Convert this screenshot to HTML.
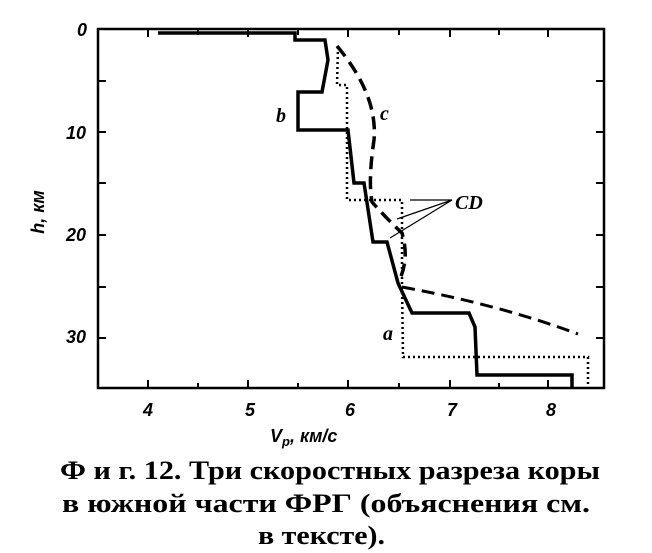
<!DOCTYPE html>
<html><head><meta charset="utf-8"><style>
body{margin:0;background:#fff;}
svg{display:block}
</style></head><body>
<svg width="652" height="553" viewBox="0 0 652 553" xmlns="http://www.w3.org/2000/svg">
<rect width="652" height="553" fill="#fff"/>
<rect x="98" y="29" width="506" height="359" fill="none" stroke="#000" stroke-width="2.5"/>
<g stroke="#000" stroke-width="2">
<line x1="148" y1="388" x2="148" y2="380"/><line x1="248" y1="388" x2="248" y2="380"/><line x1="348" y1="388" x2="348" y2="380"/><line x1="450" y1="388" x2="450" y2="380"/><line x1="548" y1="388" x2="548" y2="380"/>
<line x1="198" y1="388" x2="198" y2="383"/><line x1="298" y1="388" x2="298" y2="383"/><line x1="399" y1="388" x2="399" y2="383"/><line x1="499" y1="388" x2="499" y2="383"/>
<line x1="148" y1="29" x2="148" y2="37"/><line x1="248" y1="29" x2="248" y2="37"/><line x1="348" y1="29" x2="348" y2="37"/><line x1="450" y1="29" x2="450" y2="37"/><line x1="548" y1="29" x2="548" y2="37"/>
<line x1="198" y1="29" x2="198" y2="35"/><line x1="298" y1="29" x2="298" y2="35"/><line x1="399" y1="29" x2="399" y2="35"/><line x1="499" y1="29" x2="499" y2="35"/>
<line x1="98" y1="81" x2="106" y2="81"/><line x1="98" y1="132" x2="106" y2="132"/><line x1="98" y1="183" x2="106" y2="183"/><line x1="98" y1="235" x2="106" y2="235"/><line x1="98" y1="287" x2="106" y2="287"/><line x1="98" y1="338" x2="106" y2="338"/>
<line x1="604" y1="81" x2="596" y2="81"/><line x1="604" y1="132" x2="596" y2="132"/><line x1="604" y1="183" x2="596" y2="183"/><line x1="604" y1="235" x2="596" y2="235"/><line x1="604" y1="287" x2="596" y2="287"/><line x1="604" y1="338" x2="596" y2="338"/>
</g>
<polyline fill="none" stroke="#000" stroke-width="3.5" stroke-linejoin="miter" points="158,33 295,33 295,40 325,40 328,60 322,92 298,92 298,130 348,130 354,183 364,183 373,242 387,242 398,283 412,313 469,313 475,327 477,375 572,375 572,388"/>
<polyline fill="none" stroke="#000" stroke-width="2.5" stroke-dasharray="2,3" points="338,47 337,85 347,85 347,200 402,200 402,283 403,357 588,357 588,388"/>
<path d="M337,46 Q378,95 374,140 Q368,180 372,202 Q388,220 402,233 Q410,260 398,283" fill="none" stroke="#000" stroke-width="3.5" stroke-dasharray="13,7"/>
<path d="M402,287 Q500,305 578,334" fill="none" stroke="#000" stroke-width="3" stroke-dasharray="13,7"/>
<g stroke="#000" stroke-width="1.2" fill="none">
<line x1="452" y1="200" x2="410" y2="200"/><line x1="452" y1="200" x2="397" y2="219"/><line x1="452" y1="200" x2="390" y2="238"/>
</g>
<g font-family="Liberation Serif, serif" font-style="italic" font-weight="bold" fill="#000">
<text x="276" y="122" font-size="20">b</text>
<text x="380" y="120" font-size="20">c</text>
<text x="383" y="340" font-size="20">a</text>
<text x="455" y="209" font-size="20">CD</text>
</g>
<g font-family="Liberation Sans, sans-serif" font-style="italic" font-weight="bold" font-size="18" fill="#000" text-anchor="middle">
<text x="82" y="36">0</text><text x="76" y="139">10</text><text x="76" y="241">20</text><text x="76" y="343">30</text>
<text x="148" y="416">4</text><text x="250" y="416">5</text><text x="350" y="416">6</text><text x="452" y="416">7</text><text x="551" y="416">8</text>
<text x="0" y="0" transform="translate(44,212) rotate(-90)">h, км</text>
</g>
<text x="270" y="442" font-family="Liberation Sans, sans-serif" font-style="italic" font-weight="bold" font-size="18">V<tspan font-size="13" dy="4">p</tspan><tspan dy="-4">, км/с</tspan></text>
<g font-family="Liberation Serif, serif" font-weight="bold" font-size="26" fill="#000">
<text x="60" y="479" textLength="540" lengthAdjust="spacingAndGlyphs">Ф и г. 12. Три скоростных разреза коры</text>
<text x="62" y="512" textLength="528" lengthAdjust="spacingAndGlyphs">в южной части  ФРГ  (объяснения  см.</text>
<text x="258" y="544" textLength="127" lengthAdjust="spacingAndGlyphs">в тексте).</text>
</g>
</svg>
</body></html>
